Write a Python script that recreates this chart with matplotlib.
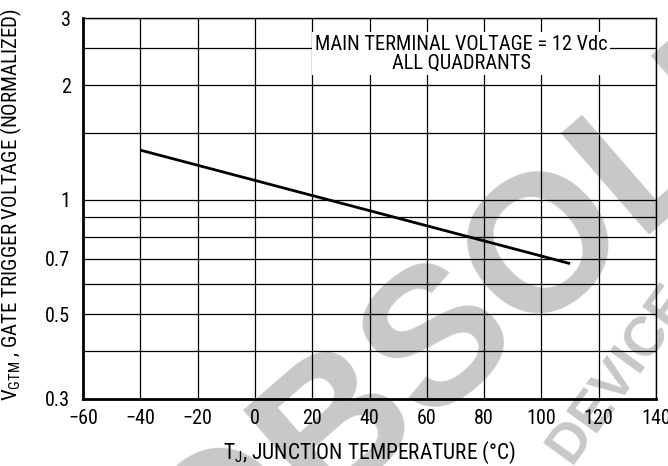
import matplotlib
matplotlib.use("Agg")
import matplotlib.pyplot as plt
from matplotlib import ticker

# ---- data ----
temp_c = [-40, 110]
vgt_norm = [1.35, 0.68]
x_ticks = [-60, -40, -20, 0, 20, 40, 60, 80, 100, 120, 140]
x_tick_labels = ["\u221260", "\u221240", "\u221220", "0", "20", "40", "60", "80", "100", "120", "140"]
y_grid = [0.3, 0.4, 0.5, 0.6, 0.7, 0.8, 0.9, 1.0, 1.5, 2.0, 2.5, 3.0]
y_ticks = [0.3, 0.5, 0.7, 1, 2, 3]
y_tick_labels = ["0.3", "0.5", "0.7", "1", "2", "3"]

fam = "Roboto Condensed"
plt.rcParams['font.family'] = [fam, 'DejaVu Sans']
plt.rcParams['mathtext.fontset'] = 'custom'
plt.rcParams['mathtext.rm'] = fam
plt.rcParams['mathtext.it'] = fam
plt.rcParams['mathtext.default'] = 'rm'

fig = plt.figure(figsize=(6.68, 4.66), dpi=100)
ax = fig.add_axes([83/668, 1-399/466, (656-83)/668, (399-18)/466])
ax.patch.set_alpha(0)

# watermark (behind the chart)
wm = '#c8c8c8'
fig.text(576/668, 1-224/466, "OBSOLETE", fontsize=140, fontweight='bold', color=wm,
         rotation=41, ha='center', va='center', rotation_mode='anchor',
         family='Liberation Sans', zorder=-5)
fig.text(620/668, 1-374/466, "DEVICE", fontsize=40, fontweight='bold', color=wm,
         rotation=54, ha='center', va='center', rotation_mode='anchor',
         family='Liberation Sans', zorder=-5)

ax.set_yscale('log')
ax.set_xlim(-60, 140)
ax.set_ylim(0.3, 3)

for v in x_ticks:
    ax.axvline(v, color='black', lw=0.9, zorder=1)
for v in y_grid:
    ax.axhline(v, color='black', lw=0.9, zorder=1)

ax.plot(temp_c, vgt_norm, color='black', lw=2.0, zorder=4, solid_capstyle='butt')

ax.set_xticks(x_ticks)
ax.set_xticklabels(x_tick_labels)
ax.set_yticks(y_ticks)
ax.set_yticklabels(y_tick_labels)
ax.yaxis.set_minor_locator(ticker.NullLocator())
ax.tick_params(length=0, labelsize=14.5)
ax.tick_params(axis='x', pad=7)
ax.tick_params(axis='y', pad=9)

for s in ['left', 'bottom']:
    ax.spines[s].set_linewidth(2.0)
for s in ['top', 'right']:
    ax.spines[s].set_linewidth(1.0)

ax.text(72, 2.42, "MAIN TERMINAL VOLTAGE = 12 Vdc\nALL QUADRANTS", ha='center', va='center',
        fontsize=14.7, linespacing=1.0, zorder=5,
        bbox=dict(facecolor='white', edgecolor='none', pad=2))

ax.set_xlabel("T$_\\mathregular{J}$, JUNCTION TEMPERATURE (\u00b0C)", fontsize=15.5, labelpad=9)
ax.set_ylabel("V$_\\mathregular{GTM}$ , GATE TRIGGER VOLTAGE (NORMALIZED)", fontsize=15)
ax.yaxis.set_label_coords(-(83-24)/573, 0.51)

fig.savefig("out.png", dpi=100)
